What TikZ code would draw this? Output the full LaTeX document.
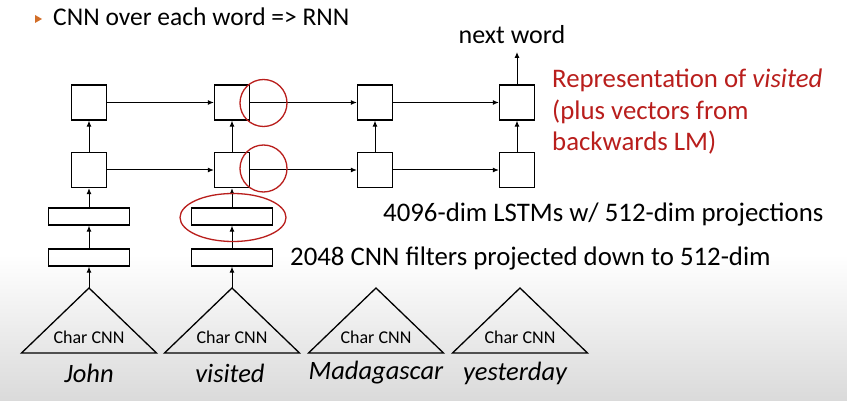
\documentclass[tikz,border=0pt]{standalone}
\usepackage{fontspec}
\setmainfont{Carlito}
\usetikzlibrary{arrows.meta}
\definecolor{redtxt}{RGB}{185,30,28}
\definecolor{bulletc}{RGB}{210,110,40}
\definecolor{bggray}{RGB}{218,218,218}
\begin{document}
\begin{tikzpicture}[x=1pt,y=-1pt,
  cell/.style={draw,line width=1.3pt,minimum width=35pt,minimum height=35pt,inner sep=0pt},
  bar/.style={draw,line width=1.3pt,minimum width=81pt,minimum height=17pt,inner sep=0pt},
  tri/.style={draw,line width=1.3pt},
  arr/.style={-{Latex[length=6pt,width=5pt]},line width=1pt},
  hilite/.style={draw=redtxt,line width=1.3pt},
  lbl/.style={font=\fontsize{26.8}{30}\selectfont,anchor=west,inner sep=0pt},
  replbl/.style={font=\fontsize{26.8}{30}\selectfont,anchor=base west,inner sep=0pt,text=redtxt},
  word/.style={font=\fontsize{26.5}{30}\selectfont\itshape,inner sep=0pt},
  cc/.style={font=\fontsize{18}{20}\selectfont,inner sep=0pt}]
\useasboundingbox (0,0) rectangle (847,401);
\fill[white] (0,0) rectangle (847,401);
\shade[top color=white,bottom color=bggray] (0,255) rectangle (847,401);
% title
\fill[bulletc] (35,15) -- (42,19) -- (35,23) -- cycle;
\node[anchor=base west,inner sep=0pt,font=\fontsize{25.5}{28}\selectfont] (title) at (53,26) {CNN over each word => RNN};
% cells
\foreach \i/\x in {1/89,2/232,3/375,4/517}{
  \node[cell] (t\i) at (\x,102.5) {};
  \node[cell] (m\i) at (\x,170) {};
}
\foreach \i/\x in {1/89,2/232}{
  \node[bar] (p\i) at (\x,216.5) {};
  \node[bar] (q\i) at (\x,257.5) {};
}
% triangles
\foreach \i/\x in {1/89,2/232,3/376,4/520}{
  \draw[tri] (\x-67.5,353) -- (\x,288) -- (\x+67.5,353) -- cycle;
  \coordinate (a\i) at (\x,288);
  \node[cc] (c\i) at (\x,337) {Char CNN};
}
\node[word] (w1) at (89,373) {John};
\node[word] (w2) at (230,373) {visited};
\node[word] (w3) at (376,373) {Madagascar};
\node[word] (w4) at (515,373) {yesterday};
% vertical arrows
\foreach \i in {1,2}{
  \draw[arr] (a\i) -- (q\i);
  \draw[arr] (q\i) -- (p\i);
  \draw[arr] (p\i) -- (m\i);
}
\foreach \i in {1,2,3,4}{
  \draw[arr] (m\i) -- (t\i);
}
\foreach \i/\j in {1/2,2/3,3/4}{
  \draw[arr] (t\i) -- (t\j);
  \draw[arr] (m\i) -- (m\j);
}
\coordinate (nw) at (517,52);
\draw[arr] (t4) -- (nw);
\node[font=\fontsize{26}{28}\selectfont,inner sep=0pt] (next) at (512,35) {next word};
% highlights
\draw[hilite] (263.5,103) circle (23.5);
\draw[hilite] (263.5,168.5) circle (23.5);
\draw[hilite] (233,217.5) ellipse (53 and 24);
% labels
\node[replbl] (rep1) at (552,88) {Representation of \textit{visited}};
\node[replbl] (rep2) at (552,119.5) {(plus vectors from};
\node[replbl] (rep3) at (552,151) {backwards LM)};
\node[lbl] (lstm) at (383,214) {4096-dim LSTMs w/ 512-dim projections};
\node[lbl] (cnn) at (290,258) {2048 CNN filters projected down to 512-dim};
\end{tikzpicture}
\end{document}
